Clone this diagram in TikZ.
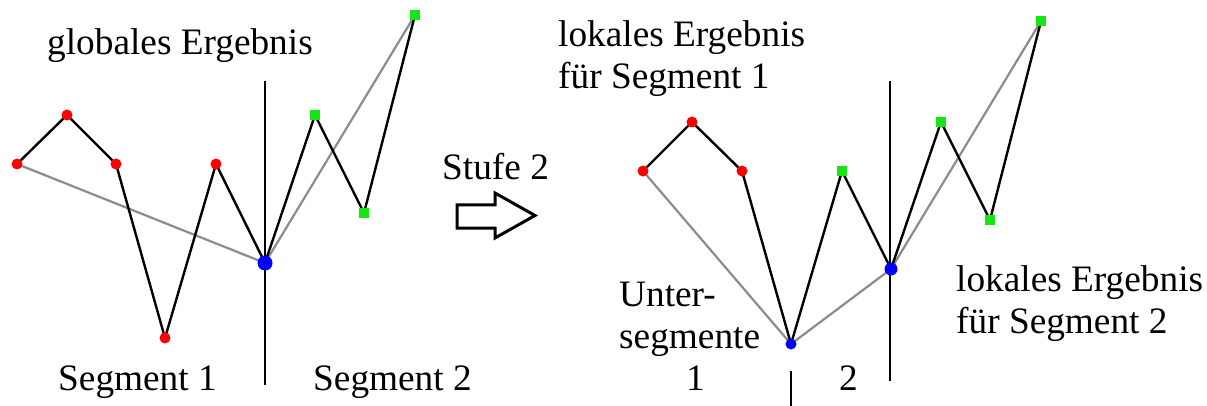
\documentclass[tikz,border=0pt]{standalone}
\usepackage{fontspec}
\setmainfont{Liberation Serif}
\usepackage{tikz}
\usetikzlibrary{positioning, calc}

\definecolor{ptred}{RGB}{255,0,0}
\definecolor{ptgreen}{RGB}{20,230,20}
\definecolor{ptblue}{RGB}{0,0,255}
\definecolor{hullgray}{RGB}{140,140,140}

\begin{document}
\begin{tikzpicture}[
    x=1pt, y=-1pt,
    label/.style={
        inner sep=0pt,
        anchor=base west,
        align=left,
        font=\fontsize{37.3}{42}\selectfont
    },
    redpt/.style={circle, fill=ptred, inner sep=0pt, minimum size=11pt},
    greenpt/.style={rectangle, fill=ptgreen, inner sep=0pt, minimum size=10pt},
    bluept/.style={circle, fill=ptblue, inner sep=0pt, minimum size=#1},
    curve/.style={black, line width=2.4pt, line join=round},
    hull/.style={hullgray, line width=2.2pt},
    divider/.style={black, line width=1.8pt}
]
\useasboundingbox (0,0) rectangle (1207,406);

\coordinate (a1) at (17,164);
\coordinate (a2) at (67,115);
\coordinate (a3) at (116,164);
\coordinate (a4) at (165,338);
\coordinate (a5) at (216,164);
\coordinate (a6) at (265,263);
\coordinate (a7) at (315,115);
\coordinate (a8) at (364,213);
\coordinate (a9) at (415,15);
\coordinate (atop) at (265,81);
\coordinate (abot) at (265,385);

\coordinate (b1) at (643,171);
\coordinate (b2) at (692,122);
\coordinate (b3) at (742,171);
\coordinate (b4) at (791,344);
\coordinate (b5) at (842,171);
\coordinate (b6) at (891,269);
\coordinate (b7) at (941,122);
\coordinate (b8) at (990,220);
\coordinate (b9) at (1041,21);
\coordinate (btop) at (890,81);
\coordinate (bbot) at (890,381);
\coordinate (stop) at (791,371);
\coordinate (sbot) at (791,406);

\draw[divider] (atop) -- (abot);
\draw[hull] (a1) -- (a6) -- (a9);
\draw[curve] (a1) -- (a2) -- (a3) -- (a4) -- (a5) -- (a6) -- (a7) -- (a8) -- (a9);

\draw[divider] (btop) -- (bbot);
\draw[divider] (stop) -- (sbot);
\draw[hull] (b1) -- (b4) -- (b6) -- (b9);
\draw[curve] (b1) -- (b2) -- (b3) -- (b4) -- (b5) -- (b6) -- (b7) -- (b8) -- (b9);

\foreach \p in {a1,a2,a3,a4,a5,b1,b2,b3}
    \node[redpt] (\p-dot) at (\p) {};
\foreach \p in {a7,a8,a9,b5,b7,b8,b9}
    \node[greenpt] (\p-dot) at (\p) {};
\node[bluept=15pt] (a6-dot) at (a6) {};
\node[bluept=13pt] (b6-dot) at (b6) {};
\node[bluept=11pt] (b4-dot) at (b4) {};

\node[label] (global) at (47,55) {globales Ergebnis};
\node[label] (seg1) at (58,390) {Segment 1};
\node[label] (seg2) at (313,390) {Segment 2};

\node[label] (stufe) at (442,180) {Stufe 2};
\draw[line width=3pt, line join=miter]
    (457,205) -- (495,205) -- (495,193) -- (535,215.5) -- (495,238) -- (495,228) -- (457,228) -- cycle;

\node[label] (local1) at (558,89) {lokales Ergebnis\\für Segment 1};
\node[label] (unter) at (619,348) {Unter-\\segmente};
\node[label] (sub1) at (686,390) {1};
\node[label] (sub2) at (839,390) {2};
\node[label] (local2) at (956,333) {lokales Ergebnis\\für Segment 2};

\end{tikzpicture}
\end{document}
